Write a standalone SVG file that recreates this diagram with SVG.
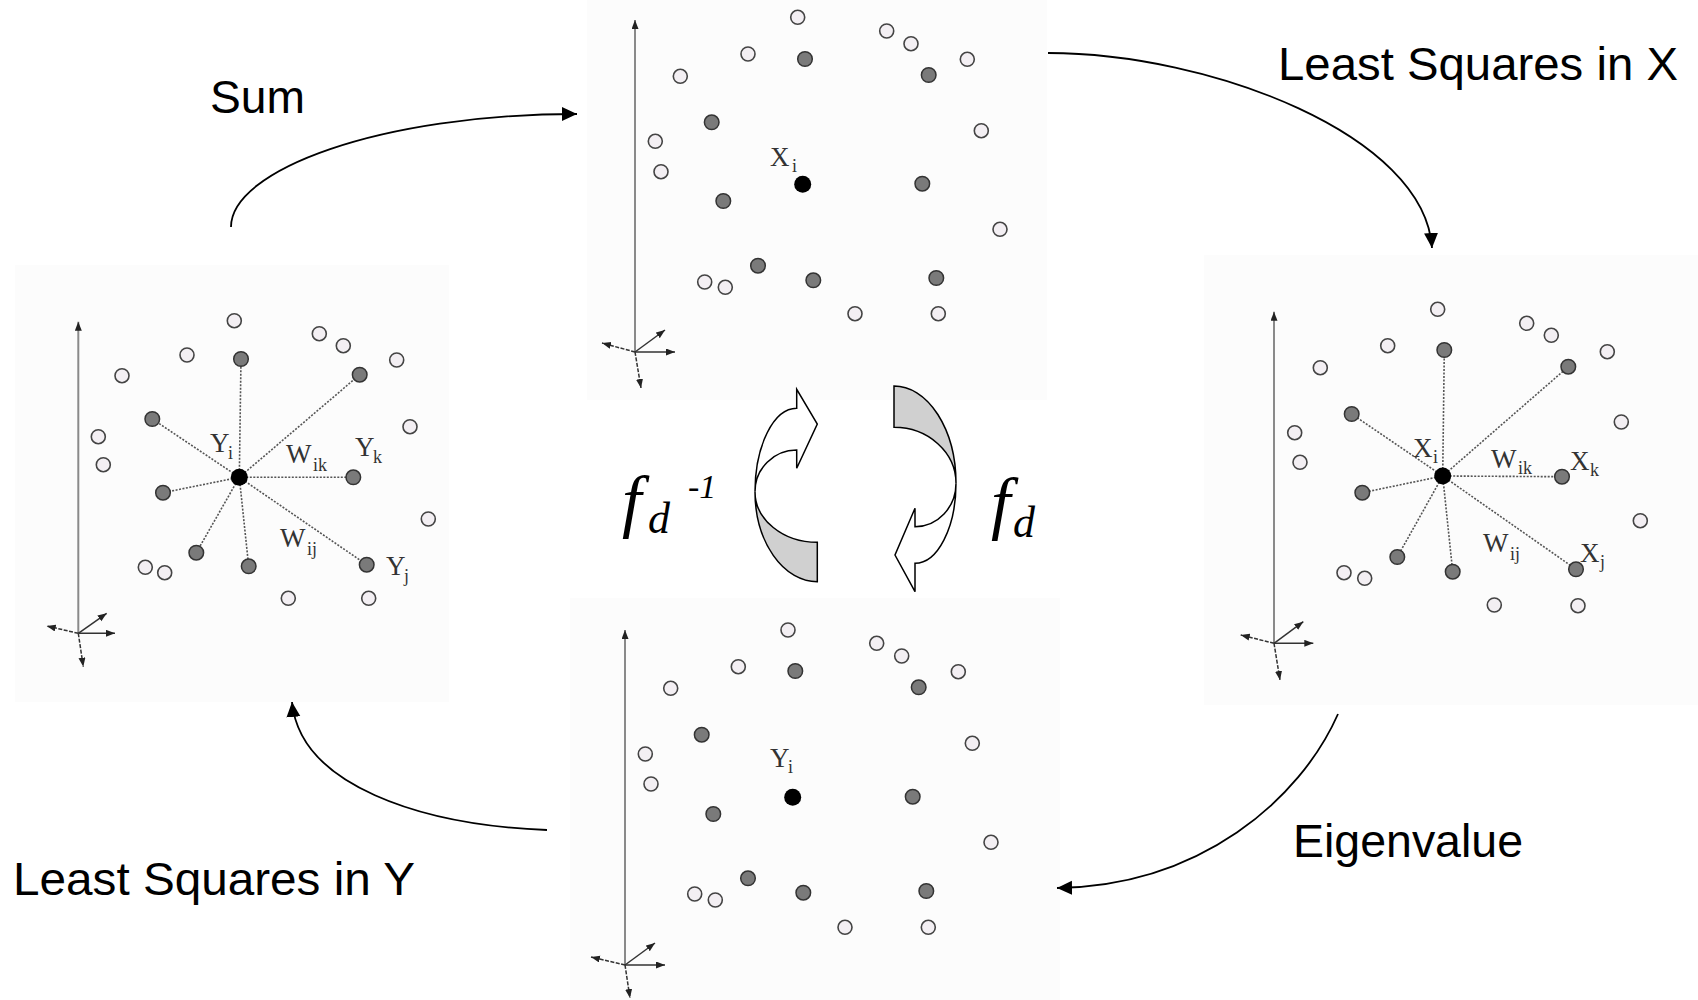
<svg xmlns="http://www.w3.org/2000/svg" width="1698" height="1000" viewBox="0 0 1698 1000">
<style>
.bg{fill:#fcfcfc;stroke:none}
.o{fill:#f3eff3;stroke:#444;stroke-width:1.6}
.g{fill:#7a7a7a;stroke:#333;stroke-width:1.5}
.b{fill:#000}
.ax{stroke:#8a8a8a;stroke-width:2;fill:none}
.sa{stroke:#333;stroke-width:1.5;fill:none}
.dl{stroke:#555;stroke-width:1.6;stroke-dasharray:2 1.5;fill:none}
.pl{font-family:"Liberation Serif","Times New Roman",serif;fill:#333;font-size:27px}
.ps{font-size:18px}
.conn{fill:none;stroke:#000;stroke-width:1.8}
.lbl{font-family:"Liberation Sans",Arial,sans-serif;fill:#000}
.fi{font-family:"Liberation Serif","Times New Roman",serif;font-style:italic;fill:#000}
.rw{fill:#fff;stroke:#000;stroke-width:1.5;stroke-linejoin:miter}
.rg{fill:#d0d0d0;stroke:#000;stroke-width:1.5}
</style>
<defs>
<marker id="big" markerUnits="userSpaceOnUse" markerWidth="16" markerHeight="16" refX="15" refY="7" orient="auto">
<path d="M0,0 L15,7 L0,14 z" fill="#000"/>
</marker>
<marker id="sm" markerUnits="userSpaceOnUse" markerWidth="10" markerHeight="8" refX="9" refY="3.5" orient="auto">
<path d="M0,0 L9,3.5 L0,7 z" fill="#222"/>
</marker>
</defs>
<rect width="1698" height="1000" fill="#fff"/>

<g id="panel-top">
<rect class="bg" x="587" y="0" width="460" height="400"/>
<line class="ax" x1="635" y1="352" x2="635" y2="20" marker-end="url(#sm)"/>
<line class="sa" x1="635" y1="352" x2="675" y2="352" marker-end="url(#sm)"/>
<line class="sa" x1="635" y1="352" x2="665" y2="330" marker-end="url(#sm)"/>
<line class="sa" x1="635" y1="352" x2="602" y2="343" marker-end="url(#sm)" stroke-dasharray="4 1.5"/>
<line class="sa" x1="635" y1="352" x2="641" y2="388" marker-end="url(#sm)" stroke-dasharray="4 1.5"/>
<circle class="o" cx="797.7" cy="17.3" r="7"/><circle class="o" cx="886.7" cy="31" r="7"/><circle class="o" cx="911" cy="43.7" r="7"/><circle class="o" cx="748" cy="54" r="7"/><circle class="o" cx="967.3" cy="59.3" r="7"/><circle class="o" cx="680.3" cy="76.3" r="7"/><circle class="o" cx="981.3" cy="130.7" r="7"/><circle class="o" cx="655.3" cy="141.3" r="7"/><circle class="o" cx="661" cy="171.7" r="7"/><circle class="o" cx="1000" cy="229.3" r="7"/><circle class="o" cx="704.7" cy="282" r="7"/><circle class="o" cx="725.3" cy="287.3" r="7"/><circle class="o" cx="855" cy="313.7" r="7"/><circle class="o" cx="938.3" cy="313.7" r="7"/>
<circle class="g" cx="805" cy="59" r="7.3"/><circle class="g" cx="928.7" cy="75" r="7.3"/><circle class="g" cx="711.7" cy="122.3" r="7.3"/><circle class="g" cx="723.3" cy="201" r="7.3"/><circle class="g" cx="922.3" cy="183.7" r="7.3"/><circle class="g" cx="758" cy="265.7" r="7.3"/><circle class="g" cx="813.3" cy="280.3" r="7.3"/><circle class="g" cx="936.3" cy="278" r="7.3"/>
<circle class="b" cx="802.7" cy="184.3" r="8.5"/>
<text class="pl" x="770" y="166">X<tspan class="ps" x="792" y="172">i</tspan></text>
</g>

<g id="panel-bottom">
<rect class="bg" x="570" y="598" width="490" height="402"/>
<line class="ax" x1="625" y1="965" x2="625" y2="630" marker-end="url(#sm)"/>
<line class="sa" x1="625" y1="965" x2="665" y2="965" marker-end="url(#sm)"/>
<line class="sa" x1="625" y1="965" x2="655" y2="943" marker-end="url(#sm)"/>
<line class="sa" x1="625" y1="965" x2="591" y2="957" marker-end="url(#sm)" stroke-dasharray="4 1.5"/>
<line class="sa" x1="625" y1="965" x2="630" y2="998" marker-end="url(#sm)" stroke-dasharray="4 1.5"/>
<circle class="o" cx="788" cy="630" r="7"/><circle class="o" cx="876.7" cy="643.3" r="7"/><circle class="o" cx="901.7" cy="656" r="7"/><circle class="o" cx="738.3" cy="666.7" r="7"/><circle class="o" cx="958.3" cy="671.7" r="7"/><circle class="o" cx="670.7" cy="688.3" r="7"/><circle class="o" cx="972.3" cy="743.3" r="7"/><circle class="o" cx="645.3" cy="754" r="7"/><circle class="o" cx="651" cy="784" r="7"/><circle class="o" cx="991" cy="842.3" r="7"/><circle class="o" cx="694.7" cy="894" r="7"/><circle class="o" cx="715.3" cy="900" r="7"/><circle class="o" cx="845" cy="927.3" r="7"/><circle class="o" cx="928.3" cy="927.3" r="7"/>
<circle class="g" cx="795.3" cy="671" r="7.3"/><circle class="g" cx="918.7" cy="687.3" r="7.3"/><circle class="g" cx="701.7" cy="734.7" r="7.3"/><circle class="g" cx="713.3" cy="814" r="7.3"/><circle class="g" cx="912.7" cy="796.7" r="7.3"/><circle class="g" cx="748" cy="878.3" r="7.3"/><circle class="g" cx="803.3" cy="892.7" r="7.3"/><circle class="g" cx="926.3" cy="891" r="7.3"/>
<circle class="b" cx="792.7" cy="797.3" r="8.5"/>
<text class="pl" x="770" y="767">Y<tspan class="ps" x="788" y="773">i</tspan></text>
</g>

<g id="panel-left">
<rect class="bg" x="15" y="265" width="434" height="437"/>
<line class="ax" x1="78.3" y1="633.3" x2="78.3" y2="321.7" marker-end="url(#sm)"/>
<line class="sa" x1="78.3" y1="633.3" x2="115" y2="633.3" marker-end="url(#sm)"/>
<line class="sa" x1="78.3" y1="633.3" x2="106.7" y2="613.3" marker-end="url(#sm)"/>
<line class="sa" x1="78.3" y1="633.3" x2="46.7" y2="626" marker-end="url(#sm)" stroke-dasharray="4 1.5"/>
<line class="sa" x1="78.3" y1="633.3" x2="83.3" y2="666.7" marker-end="url(#sm)" stroke-dasharray="4 1.5"/>
<g>
<line class="dl" x1="239.3" y1="477.3" x2="241" y2="359"/><line class="dl" x1="239.3" y1="477.3" x2="359.7" y2="374.7"/><line class="dl" x1="239.3" y1="477.3" x2="152.3" y2="419"/><line class="dl" x1="239.3" y1="477.3" x2="163" y2="492.7"/><line class="dl" x1="239.3" y1="477.3" x2="353.3" y2="477.3"/><line class="dl" x1="239.3" y1="477.3" x2="196.3" y2="552.7"/><line class="dl" x1="239.3" y1="477.3" x2="248.7" y2="566.3"/><line class="dl" x1="239.3" y1="477.3" x2="366.7" y2="564.7"/>
</g>
<circle class="o" cx="234.3" cy="320.7" r="7"/><circle class="o" cx="319.3" cy="333.7" r="7"/><circle class="o" cx="343.3" cy="345.7" r="7"/><circle class="o" cx="187" cy="355" r="7"/><circle class="o" cx="396.7" cy="360" r="7"/><circle class="o" cx="122" cy="375.7" r="7"/><circle class="o" cx="410" cy="426.7" r="7"/><circle class="o" cx="98.3" cy="436.7" r="7"/><circle class="o" cx="103.3" cy="464.7" r="7"/><circle class="o" cx="428.3" cy="519" r="7"/><circle class="o" cx="145.3" cy="567.3" r="7"/><circle class="o" cx="164.7" cy="572.7" r="7"/><circle class="o" cx="288.3" cy="598.3" r="7"/><circle class="o" cx="368.7" cy="598.3" r="7"/>
<circle class="g" cx="241" cy="359" r="7.3"/><circle class="g" cx="359.7" cy="374.7" r="7.3"/><circle class="g" cx="152.3" cy="419" r="7.3"/><circle class="g" cx="163" cy="492.7" r="7.3"/><circle class="g" cx="353.3" cy="477.3" r="7.3"/><circle class="g" cx="196.3" cy="552.7" r="7.3"/><circle class="g" cx="248.7" cy="566.3" r="7.3"/><circle class="g" cx="366.7" cy="564.7" r="7.3"/>
<circle class="b" cx="239.3" cy="477.3" r="8.5"/>
<text class="pl" x="210" y="452">Y<tspan class="ps" x="228" y="459">i</tspan></text>
<text class="pl" x="286" y="463">W<tspan class="ps" x="313" y="471">ik</tspan></text>
<text class="pl" x="355" y="456">Y<tspan class="ps" x="373" y="463">k</tspan></text>
<text class="pl" x="280" y="547">W<tspan class="ps" x="307" y="555">ij</tspan></text>
<text class="pl" x="386" y="575">Y<tspan class="ps" x="404" y="582">j</tspan></text>
</g>

<g id="panel-right">
<rect class="bg" x="1204" y="255" width="494" height="450"/>
<line class="ax" x1="1274" y1="643.3" x2="1274" y2="311.7" marker-end="url(#sm)"/>
<line class="sa" x1="1274" y1="643.3" x2="1313.3" y2="643.3" marker-end="url(#sm)"/>
<line class="sa" x1="1274" y1="643.3" x2="1303.3" y2="621.7" marker-end="url(#sm)"/>
<line class="sa" x1="1274" y1="643.3" x2="1240.7" y2="635" marker-end="url(#sm)" stroke-dasharray="4 1.5"/>
<line class="sa" x1="1274" y1="643.3" x2="1280" y2="680" marker-end="url(#sm)" stroke-dasharray="4 1.5"/>
<g>
<line class="dl" x1="1442.7" y1="476" x2="1444.3" y2="350"/><line class="dl" x1="1442.7" y1="476" x2="1568.3" y2="366.7"/><line class="dl" x1="1442.7" y1="476" x2="1351.7" y2="414"/><line class="dl" x1="1442.7" y1="476" x2="1362.3" y2="492.7"/><line class="dl" x1="1442.7" y1="476" x2="1562" y2="476.7"/><line class="dl" x1="1442.7" y1="476" x2="1397.3" y2="557"/><line class="dl" x1="1442.7" y1="476" x2="1452.7" y2="571.7"/><line class="dl" x1="1442.7" y1="476" x2="1576" y2="569.3"/>
</g>
<circle class="o" cx="1437.7" cy="309.3" r="7"/><circle class="o" cx="1526.7" cy="323.3" r="7"/><circle class="o" cx="1551.3" cy="335.3" r="7"/><circle class="o" cx="1387.7" cy="345.7" r="7"/><circle class="o" cx="1607.3" cy="351.7" r="7"/><circle class="o" cx="1320.3" cy="367.7" r="7"/><circle class="o" cx="1621.3" cy="422" r="7"/><circle class="o" cx="1294.7" cy="432.7" r="7"/><circle class="o" cx="1300" cy="462.3" r="7"/><circle class="o" cx="1640.3" cy="520.7" r="7"/><circle class="o" cx="1344" cy="572.7" r="7"/><circle class="o" cx="1364.7" cy="578.3" r="7"/><circle class="o" cx="1494.3" cy="605" r="7"/><circle class="o" cx="1578" cy="605.7" r="7"/>
<circle class="g" cx="1444.3" cy="350" r="7.3"/><circle class="g" cx="1568.3" cy="366.7" r="7.3"/><circle class="g" cx="1351.7" cy="414" r="7.3"/><circle class="g" cx="1362.3" cy="492.7" r="7.3"/><circle class="g" cx="1562" cy="476.7" r="7.3"/><circle class="g" cx="1397.3" cy="557" r="7.3"/><circle class="g" cx="1452.7" cy="571.7" r="7.3"/><circle class="g" cx="1576" cy="569.3" r="7.3"/>
<circle class="b" cx="1442.7" cy="476" r="8.5"/>
<text class="pl" x="1413" y="457">X<tspan class="ps" x="1433" y="463">i</tspan></text>
<text class="pl" x="1491" y="468">W<tspan class="ps" x="1518" y="474">ik</tspan></text>
<text class="pl" x="1570" y="470">X<tspan class="ps" x="1590" y="476">k</tspan></text>
<text class="pl" x="1483" y="552">W<tspan class="ps" x="1510" y="560">ij</tspan></text>
<text class="pl" x="1580" y="562">X<tspan class="ps" x="1600" y="568">j</tspan></text>
</g>

<g id="rotation-inverse">
<path class="rg" d="M755,491.7 A62.3 90 0 0 0 817.3,581.7 L817.3,542.3 A62.3 50.6 0 0 1 755,491.7 Z"/>
<path class="rw" d="M796.7,408.3 A41.7 83.4 0 0 0 755,491.7 A41.7 41.7 0 0 1 796.7,450 L796.7,468.3 L817.3,424 L796.7,389.3 Z"/>
<text class="fi"><tspan x="622" y="524" font-size="70">f</tspan><tspan x="648" y="533" font-size="44">d</tspan><tspan x="688" y="498" font-size="34">-1</tspan></text>
</g>

<g id="rotation-forward">
<path class="rg" d="M894,386 A62 97.3 0 0 1 956,483.3 A62 56 0 0 0 894,427.3 Z"/>
<path class="rw" d="M956,483.3 A41 80 0 0 1 915,563.3 L915,591.7 L895,555 L915,508.3 L915,526.7 A41 43.4 0 0 0 956,483.3 Z"/>
<text class="fi"><tspan x="991" y="526" font-size="70">f</tspan><tspan x="1013" y="537" font-size="44">d</tspan></text>
</g>

<g id="connectors">
<path class="conn" d="M231,227 C231,170 380,114 577,114" marker-end="url(#big)"/>
<path class="conn" d="M1048,53 C1210,53 1425,135 1432,248" marker-end="url(#big)"/>
<path class="conn" d="M1338,714 C1300,800 1200,886 1057,888" marker-end="url(#big)"/>
<path class="conn" d="M547,830 C420,825 300,785 292,702" marker-end="url(#big)"/>
</g>

<g id="connector-labels">
<text class="lbl" x="210" y="113" font-size="46" textLength="95" lengthAdjust="spacingAndGlyphs">Sum</text>
<text class="lbl" x="1278" y="80" font-size="47" textLength="400" lengthAdjust="spacingAndGlyphs">Least Squares in X</text>
<text class="lbl" x="1293" y="857" font-size="47" textLength="230" lengthAdjust="spacingAndGlyphs">Eigenvalue</text>
<text class="lbl" x="13" y="895" font-size="47" textLength="402" lengthAdjust="spacingAndGlyphs">Least Squares in Y</text>
</g>
</svg>
